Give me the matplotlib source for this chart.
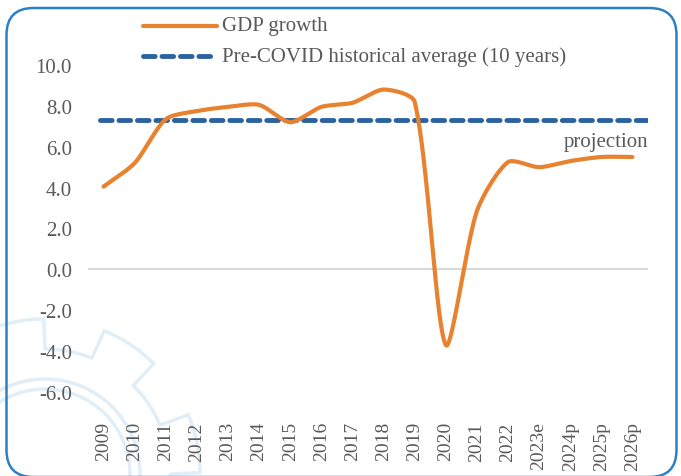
import numpy as np
import matplotlib
matplotlib.use("Agg")
import matplotlib.pyplot as plt
from matplotlib.patches import FancyBboxPatch, Polygon, Circle

years = ["2009", "2010", "2011", "2012", "2013", "2014", "2015", "2016", "2017",
         "2018", "2019", "2020", "2021", "2022", "2023e", "2024p", "2025p", "2026p"]
gdp_growth = [4.05, 5.2, 7.35, 7.75, 7.95, 8.05, 7.2, 7.95, 8.15,
              8.8, 8.2, -3.7, 2.85, 5.25, 5.0, 5.3, 5.5, 5.5]
pre_covid_avg = 7.3
y_ticks = [-6.0, -4.0, -2.0, 0.0, 2.0, 4.0, 6.0, 8.0, 10.0]

ORANGE = "#E8822F"
BLUE = "#2C62A0"
GREY = "#595959"
FONT = "Liberation Serif"

# pixel scale of one category / one y unit (used only for smoothing weights)
SX, SY = 31.0, 20.44


def smooth(xs, ys, n=40, t=0.5):
    """Excel-like smoothing: Bezier with distance-weighted control points."""
    P = np.column_stack([np.asarray(xs, float) * SX, np.asarray(ys, float) * SY])
    m = len(P)
    cin = np.zeros_like(P)
    cout = np.zeros_like(P)
    for i in range(m):
        p_prev = P[i - 1] if i > 0 else P[i]
        p_next = P[i + 1] if i < m - 1 else P[i]
        d01 = np.linalg.norm(P[i] - p_prev)
        d12 = np.linalg.norm(p_next - P[i])
        s = d01 + d12
        if s == 0:
            cin[i] = cout[i] = P[i]
            continue
        fa = t * d01 / s
        fb = t * d12 / s
        tang = p_next - p_prev
        cin[i] = P[i] - fa * tang * 0.5
        cout[i] = P[i] + fb * tang * 0.5
    u = np.linspace(0, 1, n)[:, None]
    out = []
    for i in range(m - 1):
        p0, p1, p2, p3 = P[i], cout[i], cin[i + 1], P[i + 1]
        b = (1 - u) ** 3 * p0 + 3 * (1 - u) ** 2 * u * p1 + 3 * (1 - u) * u ** 2 * p2 + u ** 3 * p3
        out.append(b)
    out = np.vstack(out)
    return out[:, 0] / SX, out[:, 1] / SY


fig = plt.figure(figsize=(6.81, 4.77), dpi=100)
fig.patch.set_facecolor("white")

# faint gear watermark (bottom-left)
cx, cy = 0.45, 0.02
ang = np.linspace(0, 2 * np.pi, 721)
teeth = 8
r_out, r_in = 1.55, 1.25
rr = np.where((np.sin(teeth * ang) > 0), r_out, r_in)
gear = np.column_stack([cx + rr * np.cos(ang), cy + rr * np.sin(ang)])
fig.add_artist(Polygon(gear, closed=True, fill=False, edgecolor="#E1EEF8", lw=2.5,
                       transform=fig.dpi_scale_trans, zorder=0))
for r in (0.95, 0.85):
    fig.add_artist(Circle((cx, cy), r, fill=False, edgecolor="#E1EEF8", lw=2.5,
                          transform=fig.dpi_scale_trans, zorder=0))

# rounded border
fig.add_artist(FancyBboxPatch((0.065, -0.01), 6.70, 4.69,
                              boxstyle="round,pad=0,rounding_size=0.27",
                              fill=False, edgecolor="#2E80C4", lw=1.8,
                              transform=fig.dpi_scale_trans, zorder=1))

ax = fig.add_axes([88 / 681, 1 - 393 / 477, 560 / 681, 327 / 477])
ax.set_facecolor("none")
x = np.arange(len(years))

ax.axhline(0, color="#D9D9D9", lw=1.5, zorder=1)
sx, sy = smooth(x, gdp_growth)
ax.plot(sx, sy, color=ORANGE, lw=3.0, solid_capstyle="round", zorder=3)
ax.plot([x[0] - 0.1, x[-1] + 0.5], [pre_covid_avg, pre_covid_avg], color=BLUE, lw=3.5,
        dashes=(2.4, 1.4), dash_capstyle="round", zorder=2)

ax.set_xlim(-0.5, len(years) - 0.5)
ax.set_ylim(-6, 10)
ax.set_yticks(y_ticks)
ax.set_yticklabels([f"{v:.1f}" for v in y_ticks], fontfamily=FONT, fontsize=15, color=GREY)
ax.set_xticks(x)
ax.set_xticklabels(years, rotation=90, fontfamily=FONT, fontsize=14, color=GREY)
ax.tick_params(axis="y", length=0, pad=11.5)
ax.tick_params(axis="x", length=0, pad=21)
for s in ax.spines.values():
    s.set_visible(False)

ax.text(x[-1] + 0.5, 6.25, "projection", ha="right", va="center",
        fontfamily=FONT, fontsize=15, color=GREY)

# legend
fig.add_artist(plt.Line2D([143 / 681, 217 / 681], [1 - 27 / 477] * 2, color=ORANGE, lw=3.0,
                          solid_capstyle="round", transform=fig.transFigure))
fig.add_artist(plt.Line2D([143 / 681, 211 / 681], [1 - 57 / 477] * 2, color=BLUE, lw=3.5,
                          dashes=(2.4, 1.4), dash_capstyle="round", transform=fig.transFigure))
fig.text(222 / 681, 1 - 27 / 477, "GDP growth", ha="left", va="center",
         fontfamily=FONT, fontsize=15, color=GREY)
fig.text(222 / 681, 1 - 57 / 477, "Pre-COVID historical average (10 years)", ha="left",
         va="center", fontfamily=FONT, fontsize=15, color=GREY)

fig.savefig("out.png", dpi=100, facecolor="white")
